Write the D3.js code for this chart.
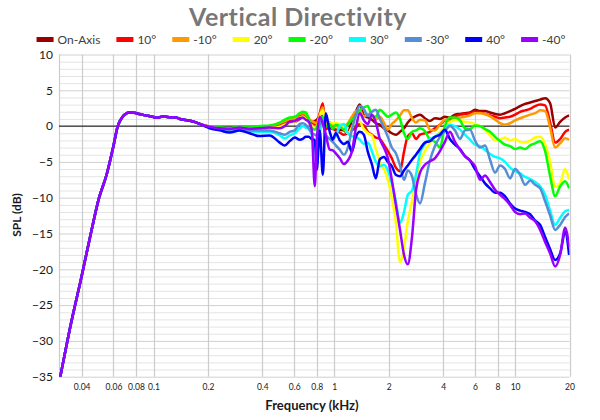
<!DOCTYPE html>
<html>
<head>
<meta charset="utf-8">
<script src="https://cdn.jsdelivr.net/npm/d3@7"></script>
<style>
  body { margin: 0; background: #fff; }
  svg { font-family: Lato, "Open Sans", sans-serif; }
</style>
</head>
<body>
<script>
// ---- data ----
var names  = ["On-Axis", "10°", "-10°", "20°", "-20°", "30°", "-30°", "40°", "-40°"];
var colors = ["#990000", "#ff0000", "#ff9900", "#ffff00", "#00ff00", "#00ffff", "#558ed5", "#0000ff", "#9900ff"];

var xTicks = [0.04, 0.06, 0.08, 0.1, 0.2, 0.4, 0.6, 0.8, 1, 2, 4, 6, 8, 10, 20];
var yTicks = [-35, -30, -25, -20, -15, -10, -5, 0, 5, 10];

// low end, common to every angle (kHz, dB)
var lowFreq = [0.0305, 0.035, 0.04, 0.045, 0.05, 0.055, 0.06, 0.0634, 0.067, 0.0736, 0.078, 0.0834,
               0.09, 0.099, 0.105, 0.112, 0.122, 0.131, 0.14, 0.159, 0.17];
var lowDb   = [-35, -27.5, -21, -15, -10, -6.8, -2.8, 0, 1.2, 1.9, 1.85, 1.7,
               1.5, 1.3, 1.15, 1.35, 1.25, 1.25, 1.0, 0.75, 0.55];

// shared frequency grid above 0.18 kHz
var freq = [0.180, 0.204, 0.232, 0.264, 0.299, 0.340, 0.386, 0.439, 0.499,
            0.532, 0.567, 0.604, 0.644,
            0.669, 0.695, 0.722, 0.750, 0.780, 0.800, 0.831, 0.864, 0.897, 0.944, 0.981, 1.019,
            1.073, 1.129, 1.188, 1.250, 1.316, 1.384, 1.457, 1.533, 1.613, 1.698, 1.786, 1.880,
            1.978, 2.08, 2.19, 2.31, 2.43, 2.55, 2.69, 2.83, 2.98,
            3.17, 3.38, 3.60, 3.84, 4.09, 4.36, 4.65, 4.96, 5.28, 5.63, 6.00, 6.40, 6.82, 7.27,
            7.75, 8.26, 8.80, 9.38, 10.0, 10.66, 11.36, 12.11, 12.91, 13.76, 14.66, 15.63, 16.66,
            17.75, 18.92, 19.9];

var onAxis = [0.3, -0.1, -0.3, -0.4, -0.3, -0.4, -0.3, -0.2, 0.0,
              0.3, 0.6, 0.6, 1.0,
              1.3, 1.0, 0.6, 0.5, 0.7, 0.9, 1.3, 1.4, -0.3, -0.3, -0.4, -0.5,
              -0.5, -0.6, -1.0, 0.8, 2.0, 3.0, 1.5, 1.2, 0.9, 0.4, 0.2, -0.3, -0.6, -1.0, -1.2, -0.8, -0.3, 0.5, 1.1, 1.4, 1.6,
              1.1, 0.7, 1.1, 1.0, 1.3, 1.2, 1.6, 1.7, 1.8, 1.9, 2.3, 2.1, 2.1, 1.9, 1.7, 1.6, 1.8, 2.1, 2.4,
              2.8, 3.1, 3.3, 3.5, 3.7, 3.9, 3.2, -0.2, 0.6, 1.2,
              1.5];
var pos10 = [0.3, -0.1, -0.3, -0.4, -0.3, -0.4, -0.3, -0.1, 0.2,
             0.5, 0.8, 0.9, 1.4,
             1.6, 1.2, 0.7, 0.5, 0.3, 0.5, 1.8, 3.2, -0.5, 0.2, -0.2, -0.6,
             -0.9, -1.2, -1.0, -0.6, -0.2, 0.3, 0.1, -0.8, -1.2, -1.6, -1.8, -2.6, -3.5, -4.5, -5.8, -6.3, -3.6, -1.4, -1.0, -1.8, -1.2,
             -1.0, -0.8, -0.3, 0.2, 0.8, 1.0, 1.4, 1.6, 1.7, 1.8, 2.0, 1.9, 1.7, 1.5, 1.3, 1.1, 1.2, 1.3, 1.6,
             2.0, 2.2, 2.4, 2.8, 3.0, 2.9, 0.5, -2.3, -1.8, -0.8,
             -0.5];
var neg10 = [0.3, -0.1, -0.3, -0.3, -0.2, -0.3, -0.2, 0.0, 0.4,
             0.7, 1.0, 1.1, 1.7,
             1.8, 1.6, 1.1, 0.7, 0.5, 0.4, 1.6, 2.6, 0.4, 0.5, 0.2, 0.0,
             -0.1, 0.0, 0.4, 1.3, 2.1, 2.2, 1.3, 1.7, 1.4, 0.9, 1.3, 0.5, -0.5, 0.3, 0.8, 1.5, 2.2, 2.2, 1.1, 0.5, 0.9,
             0.8, -0.5, -0.6, 0.2, 0.9, 0.7, 1.0, 1.2, 1.3, 1.5, 1.8, 1.8, 1.7, 1.35, 0.9, 0.4, 0.2, 0.4, 0.8,
             1.1, 1.35, 1.6, 1.8, 2.2, 2.1, -0.2, -3.0, -2.4, -1.7,
             -1.9];
var pos20 = [0.3, -0.1, -0.3, -0.4, -0.3, -0.5, -0.4, -0.3, -0.1,
             0.2, 0.5, 0.6, 1.2,
             1.35, 1.0, 0.5, 0.0, -0.2, -0.2, 1.4, 2.2, 0.2, 0.4, 0.4, 0.4,
             0.3, -0.3, -1.0, -0.2, 0.8, 0.6, -0.4, -1.0, -1.3, -3.2, -4.9, -6.0, -7.5, -10.0, -13.5, -19.0, -17.0, -13.3, -10.5, -7.5, -5.0,
             -3.5, -2.4, -1.5, -0.8, -0.2, 0.5, 0.8, 0.8, 0.6, 0.5, 0.3, 0.0, -0.5, -1.3, -2.0, -1.9, -1.6, -2.0, -1.8,
             -2.2, -2.3, -2.0, -1.6, -1.5, -2.5, -5.0, -8.5, -8.0, -6.0,
             -7.5];
var neg20 = [0.3, -0.1, -0.2, -0.3, -0.1, -0.2, 0.0, 0.1, 0.5,
             0.9, 1.2, 1.3, 1.8,
             2.0, 1.9, 1.0, -0.3, -0.5, -0.2, 0.9, 1.3, -0.1, 0.3, -0.4, 0.2,
             0.0, -0.5, 0.2, 0.9, 1.5, 2.2, 2.6, 2.8, 1.5, 1.3, 2.3, 1.8, 1.3, 1.6, 1.9, 1.0, -1.0, -1.8, -0.8, -0.6, -0.3,
             -0.7, -1.9, -2.2, -3.0, 0.0, 1.2, 1.2, 0.8, -0.3, -0.4, 0.1, 0.0, -0.4, -0.8, -1.5, -2.1, -2.6, -2.8, -3.2,
             -3.0, -3.2, -2.7, -2.4, -2.1, -3.5, -7.0, -9.8, -8.4, -7.7,
             -8.7];
var pos30 = [0.3, -0.2, -0.5, -0.6, -0.5, -0.7, -0.8, -0.8, -1.3,
             -1.7, -1.3, -1.0, -0.3,
             0.0, -0.2, -0.4, -1.2, -2.2, -2.8, -0.8, 0.4, -1.4, -1.8, -1.8, -1.4,
             0.0, 0.3, -1.0, -1.4, -1.5, -1.9, -2.5, -2.3, -3.5, -5.0, -5.6, -5.4, -6.2, -8.0, -10.5, -13.5, -12.0, -9.6, -9.0, -6.8, -3.8,
             -2.5, -1.8, -1.5, -1.0, -0.5, 0.2, 0.0, -0.5, -1.2, -1.9, -2.6, -2.8, -3.3, -3.9, -4.3, -4.5, -5.0, -5.8, -6.3,
             -6.6, -7.1, -7.4, -7.8, -8.4, -9.6, -11.8, -13.8, -12.8, -11.9,
             -11.7];
var neg30 = [0.3, -0.2, -0.4, -0.5, -0.4, -0.6, -0.6, -0.6, -1.0,
             -1.2, -0.8, -0.6, 0.3,
             0.4, 0.2, -0.3, -0.9, -1.2, -1.3, 0.2, 0.8, -1.2, -1.8, -2.2, -2.7,
             -3.3, -4.0, -3.0, -0.5, 1.5, 2.8, 2.4, 1.4, 2.0, 2.3, 1.0, -0.2, -1.5, -3.0, -3.8, -5.5, -7.5, -6.2, -7.0, -9.5, -10.8,
             -8.0, -4.8, -2.8, -1.5, -0.7, 0.0, -0.6, -1.8, -0.6, -0.5, -2.0, -3.0, -2.7, -4.7, -6.5, -5.5, -6.0, -7.3, -6.0,
             -6.8, -8.2, -7.6, -8.2, -8.7, -10.5, -12.5, -14.5, -13.8, -12.7,
             -12.2];
var pos40 = [0.3, -0.3, -0.6, -0.9, -0.6, -1.0, -1.4, -1.3, -2.3,
             -2.7, -2.1, -1.6, -1.9,
             -1.8, -1.5, -1.5, -1.8, -2.0, -6.1, -0.6, -6.8, 1.8, -0.8, -1.9, -1.0,
             -2.0, -2.5, -2.2, -3.6, -1.5, -0.8, -1.2, -3.6, -5.3, -7.3, -4.6, -4.3, -5.0, -5.6, -6.8, -7.0, -6.2, -5.5, -4.7, -4.0, -3.2,
             -2.3, -2.1, -1.5, -1.2, -0.5, -1.8, -2.6, -3.2, -4.2, -4.8, -6.0, -7.0, -8.0, -8.7, -9.3, -9.3, -9.8, -10.8, -11.5,
             -11.8, -12.0, -12.3, -13.2, -13.8, -15.5, -17.2, -18.7, -17.8, -14.8,
             -18.0];
var neg40 = [0.3, -0.1, -0.3, -0.4, -0.2, -0.4, -0.3, -0.2, -0.3,
             0.0, 0.6, 0.7, 1.1,
             1.2, 0.9, 0.6, -0.5, -8.4, -2.0, 1.3, 0.3, -1.2, -3.3, -3.4, -3.8,
             -4.5, -5.3, -4.8, -3.6, -0.3, 1.8, 0.8, 0.3, 1.6, 0.5, -1.8, -3.0, -4.5, -7.5, -11.0, -14.5, -18.0, -19.3, -15.5, -9.0, -6.5,
             -5.4, -4.9, -4.5, -3.5, -2.2, -0.8, -2.2, -3.3, -4.2, -4.8, -5.6, -7.5, -6.9, -7.8, -8.9, -9.6, -10.2, -11.0, -12.0,
             -12.3, -12.2, -12.8, -13.3, -14.5, -16.2, -17.8, -19.6, -18.0, -14.2,
             -16.9];

var seriesValues = [onAxis, pos10, neg10, pos20, neg20, pos30, neg30, pos40, neg40];

// ---- layout ----
var W = 600, H = 420;
var plot = {left: 59, right: 569.5, top: 54.5, bottom: 376.7};

var x = d3.scaleLog().domain([0.03, 20]).range([plot.left, plot.right]);
var y = d3.scaleLinear().domain([-35, 10]).range([plot.bottom, plot.top]);

var svg = d3.select("body").append("svg")
    .attr("width", W)
    .attr("height", H);

// gridlines
var grid = svg.append("g");
grid.selectAll(".hminor")
    .data(d3.range(-35, 11))
    .enter().append("line")
    .attr("x1", plot.left).attr("x2", plot.right)
    .attr("y1", d => y(d) + 0.5).attr("y2", d => y(d) + 0.5)
    .attr("stroke", d => d % 5 == 0 ? "#d0d0d0" : "#e4e4e4")
    .attr("stroke-width", 1);

grid.selectAll(".vline")
    .data([0.03].concat(xTicks))
    .enter().append("line")
    .attr("x1", d => Math.round(x(d)) + 0.5).attr("x2", d => Math.round(x(d)) + 0.5)
    .attr("y1", plot.top).attr("y2", plot.bottom)
    .attr("stroke", "#cccccc")
    .attr("stroke-width", 1.2);

// zero line
svg.append("line")
   .attr("x1", plot.left).attr("x2", plot.right)
   .attr("y1", y(0)).attr("y2", y(0))
   .attr("stroke", "#000")
   .attr("stroke-width", 1);

// axes
var axis_y = d3.axisLeft(y).tickValues(yTicks).tickSize(0).tickPadding(6);
var gy = svg.append("g")
   .attr("transform", "translate(" + plot.left + ",0)")
   .call(axis_y);
gy.select(".domain").remove();
gy.selectAll("text").attr("font-size", 12).attr("fill", "#1a1a1a")
  .attr("font-family", "Lato, sans-serif");

var axis_x = d3.axisBottom(x).tickValues(xTicks).tickFormat(d => String(d)).tickSize(0).tickPadding(7);
var gx = svg.append("g")
   .attr("transform", "translate(0," + plot.bottom + ")")
   .call(axis_x);
gx.select(".domain").remove();
gx.selectAll("text").attr("font-size", 8.5).attr("fill", "#1a1a1a")
  .attr("font-family", "Lato, sans-serif");

// axis titles
svg.append("text")
   .attr("x", 312).attr("y", 410)
   .attr("text-anchor", "middle")
   .attr("font-size", 13).attr("font-weight", "bold").attr("fill", "#1a1a1a")
   .text("Frequency (kHz)");

svg.append("text")
   .attr("transform", "translate(21," + 215 + ") rotate(-90)")
   .attr("text-anchor", "middle")
   .attr("font-size", 12).attr("font-weight", "bold").attr("fill", "#1a1a1a")
   .text("SPL (dB)");

// title
svg.append("text")
   .attr("x", 298).attr("y", 25.5)
   .attr("text-anchor", "middle")
   .attr("font-size", 25).attr("font-weight", "bold").attr("fill", "#777777")
   .attr("letter-spacing", 0.5)
   .text("Vertical Directivity");

// curves
svg.append("clipPath").attr("id", "clip")
   .append("rect")
   .attr("x", plot.left).attr("y", plot.top)
   .attr("width", plot.right - plot.left).attr("height", plot.bottom - plot.top);

var line = d3.line()
    .x(d => x(d[0]))
    .y(d => y(d[1]))
    .curve(d3.curveMonotoneX);

var curves = names.map(function(name, i) {
    var pts = lowFreq.map((f, j) => [f, lowDb[j]]);
    freq.forEach((f, j) => pts.push([f, seriesValues[i][j]]));
    return {name: name, color: colors[i], points: pts};
});

svg.append("g")
   .attr("clip-path", "url(#clip)")
   .selectAll("path")
   .data(curves)
   .enter().append("path")
   .attr("d", d => line(d.points))
   .attr("fill", "none")
   .attr("stroke", d => d.color)
   .attr("stroke-width", 2.5)
   .attr("stroke-linejoin", "round");

// legend
var legend = svg.append("g");
var lx = 0, gap = 16;
names.forEach(function(name, i) {
    var item = legend.append("g").attr("transform", "translate(" + lx + ",0)");
    item.append("rect")
        .attr("x", 0).attr("y", -2.5)
        .attr("width", 17).attr("height", 5)
        .attr("fill", colors[i]);
    var t = item.append("text")
        .attr("x", 21).attr("y", 4.5)
        .attr("font-size", 12).attr("fill", "#404040")
        .text(name);
    lx += 21 + t.node().getComputedTextLength() + gap;
});
var legendW = lx - gap;
legend.attr("transform", "translate(" + (301 - legendW / 2) + ",39.5)");
</script>
</body>
</html>
